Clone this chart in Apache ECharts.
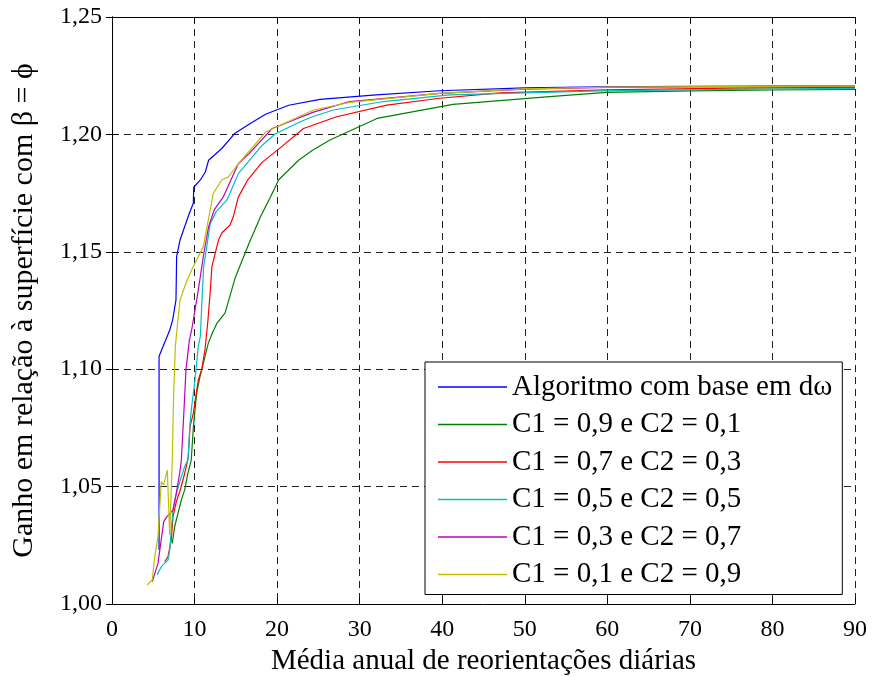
<!DOCTYPE html>
<html><head><meta charset="utf-8">
<script src="https://cdn.jsdelivr.net/npm/echarts@6/dist/echarts.min.js"></script>
<style>html,body{margin:0;padding:0;background:#fff}#c{width:873px;height:677px}</style>
</head><body><div id="c"></div>
<script>
// Tick values
const xTicks = [0,10,20,30,40,50,60,70,80,90];
const yTicks = [1.00,1.05,1.10,1.15,1.20,1.25];

// Series names
const seriesNames = [
  'Algoritmo com base em dω',
  'C1 = 0,9 e C2 = 0,1',
  'C1 = 0,7 e C2 = 0,3',
  'C1 = 0,5 e C2 = 0,5',
  'C1 = 0,3 e C2 = 0,7',
  'C1 = 0,1 e C2 = 0,9'
];

// [x, gain] pairs
const algoritmo = [[5.7,1.023],[5.7,1.1055],[7.0,1.1167],[7.35,1.121],[7.75,1.1295],[7.83,1.148],[8.24,1.155],[9.37,1.1664],[9.85,1.1707],[9.9,1.1775],[10.7,1.1806],[11.3,1.184],[11.7,1.189],[13.3,1.194],[14.9,1.2005],[16.6,1.2043],[18.6,1.2086],[21.4,1.2124],[25.2,1.2149],[32,1.2168],[39.7,1.2186],[50,1.2198],[59.1,1.2203],[70,1.2205],[80,1.2206],[90,1.2206]];
const c09 = [[7.3,1.0258],[7.59,1.0329],[7.99,1.0386],[8.4,1.0443],[8.8,1.0486],[9.2,1.0557],[9.6,1.0613],[9.85,1.075],[10.25,1.0897],[10.66,1.0968],[11.06,1.1025],[11.66,1.111],[12.1,1.115],[12.7,1.1195],[13.7,1.124],[14.9,1.1387],[16.6,1.1536],[18.0,1.165],[19.0,1.172],[20.2,1.1807],[22.6,1.189],[24.2,1.193],[26.4,1.1976],[32.1,1.2068],[41.3,1.2128],[53,1.2161],[59.9,1.2179],[70,1.2185],[80,1.2189],[90,1.2192]];
const c07 = [[6.38,1.018],[6.78,1.0201],[7.18,1.0273],[7.39,1.0372],[7.79,1.0436],[8.2,1.0478],[8.6,1.0528],[9.0,1.0585],[9.24,1.0627],[9.45,1.0755],[9.85,1.0812],[10.45,1.0954],[10.86,1.0997],[11.26,1.1082],[11.6,1.12],[11.9,1.133],[12.1,1.1437],[12.9,1.155],[13.3,1.158],[14.3,1.1614],[14.7,1.165],[15.3,1.1733],[16.4,1.1804],[18.2,1.1882],[20,1.1932],[23.2,1.2025],[27.2,1.2075],[33.3,1.2125],[39.7,1.2154],[47,1.2177],[60,1.219],[75,1.2197],[90,1.22]];
const c05 = [[5.45,1.0124],[5.97,1.0159],[6.78,1.0187],[6.99,1.023],[7.18,1.0315],[7.39,1.04],[7.79,1.0471],[8.28,1.0528],[8.8,1.0585],[9.2,1.0613],[9.45,1.077],[9.65,1.084],[10.05,1.0954],[10.45,1.1096],[10.7,1.114],[10.9,1.1295],[11.1,1.1437],[11.47,1.152],[11.9,1.162],[12.6,1.167],[13.9,1.172],[14.3,1.175],[15.3,1.1833],[18.2,1.1954],[19.8,1.2003],[22.8,1.2054],[24.2,1.2074],[26.8,1.2104],[32.9,1.214],[40.9,1.2168],[59,1.2185],[75,1.2192],[90,1.2196]];
const c03 = [[4.88,1.0095],[5.57,1.0173],[6.26,1.035],[6.6,1.037],[7.39,1.04],[7.79,1.0471],[8.2,1.0557],[8.4,1.0613],[8.7,1.0812],[8.96,1.0997],[9.37,1.1124],[9.65,1.1167],[10.26,1.1295],[10.7,1.1394],[11.06,1.148],[11.7,1.1607],[12.4,1.168],[13.5,1.1735],[15.3,1.1875],[16.6,1.1918],[19.4,1.2025],[24.4,1.2095],[28.8,1.214],[39.7,1.2175],[50,1.2193],[60,1.22],[75,1.2203],[90,1.2204]];
const c01 = [[4.24,1.0081],[4.88,1.0102],[5.17,1.0201],[5.57,1.0287],[5.97,1.0521],[6.26,1.0507],[6.7,1.057],[6.99,1.0294],[7.3,1.0613],[7.45,1.087],[7.67,1.1096],[7.9,1.118],[8.24,1.1295],[9.1,1.138],[9.85,1.1437],[11.06,1.1522],[12.27,1.1749],[13.3,1.1806],[14.1,1.1819],[15.3,1.1875],[18.6,1.201],[24.4,1.2104],[28.8,1.2136],[39.7,1.2175],[50,1.2194],[60,1.2201],[75,1.2204],[90,1.2205]];

const seriesData = [algoritmo, c09, c07, c05, c03, c01];
const colors = ['#0000ff','#008000','#ff0000','#00bfbf','#bf00bf','#bfbf00'];

const FONT = '"Liberation Serif", "Times New Roman", serif';
const chart = echarts.init(document.getElementById('c'), null, {renderer:'canvas'});

const gridLine = {show:true, lineStyle:{color:'#222', type:[7,5], width:1}};
const baseX = {type:'value', min:xTicks[0], max:xTicks[xTicks.length-1], interval:10};
const baseY = {type:'value', min:yTicks[0], max:yTicks[yTicks.length-1], interval:0.05};

chart.setOption({
  animation:false,
  backgroundColor:'#fff',
  color: colors,
  grid:{left:112, right:18, top:17, bottom:73, containLabel:false, outerBoundsMode:'none'},
  legend:{
    orient:'vertical', left:425, top:362,
    data: seriesNames.map((n,i)=>({name:n, itemStyle:{color:colors[i]}})),
    icon:'rect',
    itemWidth:69, itemHeight:1.3, itemGap:7.5,
    padding:[10,10,5,13],
    backgroundColor:'#fff', borderColor:'#000', borderWidth:1, borderRadius:0,
    textStyle:{fontFamily:FONT, fontSize:29, color:'#000', lineHeight:30}
  },
  xAxis:[
    Object.assign({}, baseX, {
      position:'bottom',
      name:'Média anual de reorientações diárias', nameLocation:'middle', nameGap:42,
      nameTextStyle:{fontFamily:FONT, fontSize:29, color:'#000'},
      axisLine:{show:true, lineStyle:{color:'#000', width:1}},
      axisTick:{show:true, inside:true, length:6, lineStyle:{color:'#000'}},
      axisLabel:{fontFamily:FONT, fontSize:24, color:'#000', margin:14, formatter:v=>String(v)},
      splitLine:gridLine
    }),
    Object.assign({}, baseX, {
      position:'top',
      axisLine:{show:true, lineStyle:{color:'#000', width:1}},
      axisTick:{show:true, inside:true, length:6, lineStyle:{color:'#000'}},
      axisLabel:{show:false}, splitLine:{show:false}
    })
  ],
  yAxis:[
    Object.assign({}, baseY, {
      position:'left',
      name:'Ganho em relação à superfície com β = ϕ', nameLocation:'middle', nameGap:73,
      nameTextStyle:{fontFamily:FONT, fontSize:30, color:'#000'},
      axisLine:{show:true, lineStyle:{color:'#000', width:1}},
      axisTick:{show:true, inside:true, length:6, lineStyle:{color:'#000'}},
      axisLabel:{fontFamily:FONT, fontSize:24, color:'#000', margin:10, formatter:v=>v.toFixed(2).replace('.',',')},
      splitLine:gridLine
    }),
    Object.assign({}, baseY, {
      position:'right',
      axisLine:{show:true, lineStyle:{color:'#000', width:1}},
      axisTick:{show:true, inside:true, length:6, lineStyle:{color:'#000'}},
      axisLabel:{show:false}, splitLine:{show:false}
    })
  ],
  series: seriesData.map((d,i)=>({
    name: seriesNames[i], type:'line', data:d,
    xAxisIndex:0, yAxisIndex:0,
    symbol:'none', smooth:false, clip:true,
    lineStyle:{color:colors[i], width:1.2},
    itemStyle:{color:colors[i]}
  }))
});
</script>
</body></html>
